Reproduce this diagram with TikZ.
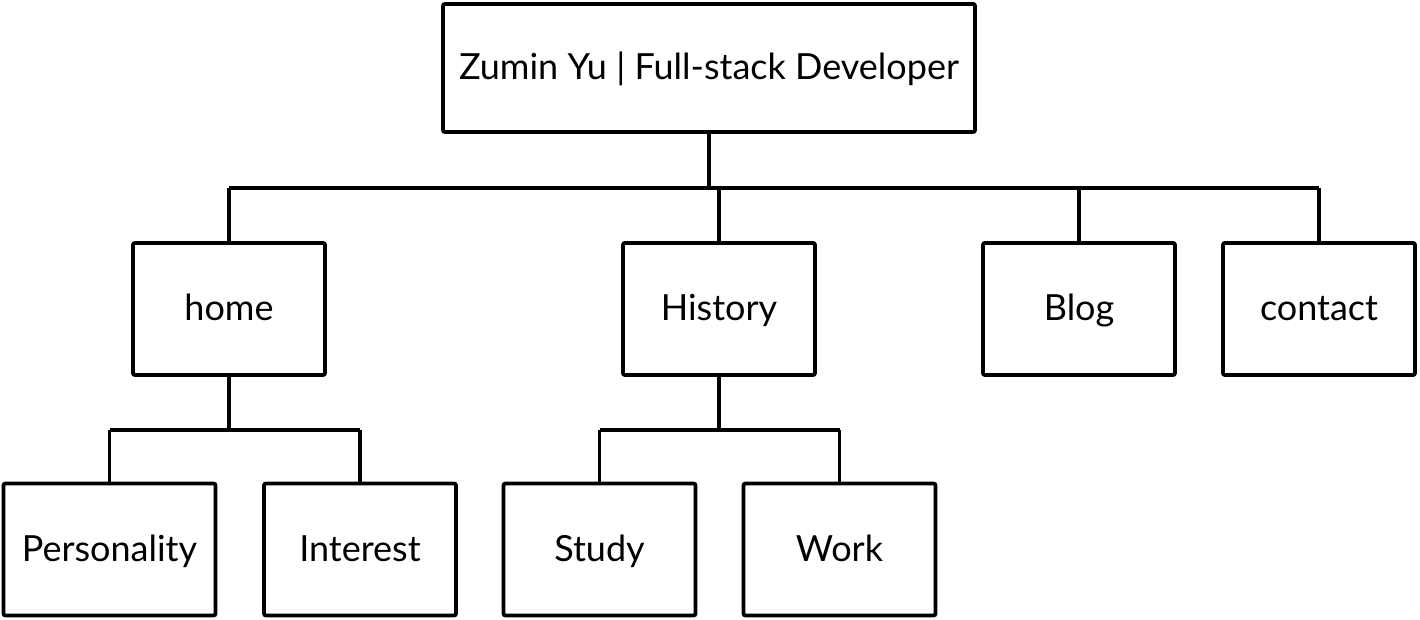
\documentclass[tikz,border=0pt]{standalone}
\usepackage{fontspec}
\setmainfont{Lato}
\usepackage{tikz}

\tikzset{
	box/.style={draw, line width=1.9pt, rounded corners=1pt, minimum width=96pt, minimum height=66pt, font=\fontsize{18}{20}\selectfont, inner sep=0pt, text height=13.5pt, text depth=1.5pt},
	link/.style={line width=1.6pt}
}

\begin{document}
\begin{tikzpicture}[x=0.5pt,y=-0.5pt]
	\useasboundingbox (0,0) rectangle (1420,620);
	\node[box, minimum width=266pt, minimum height=64pt] (root) at (709,68) {Zumin Yu | Full-stack Developer};
	\node[box] (home) at (229,309) {home};
	\node[box] (history) at (719,309) {History};
	\node[box] (blog) at (1079,309) {Blog};
	\node[box] (contact) at (1319,309) {contact};
	\node[box, minimum width=106pt] (personality) at (109.5,549.5) {Personality};
	\node[box] (interest) at (360,549.5) {Interest};
	\node[box] (study) at (599.5,549.5) {Study};
	\node[box] (work) at (839.5,549.5) {Work};
	\coordinate (bus) at (0,188);
	\coordinate (busa) at (0,430);
	\draw[link] (root.south) -- (root.south |- bus);
	\draw[link] (home.north |- bus) -- (contact.north |- bus);
	\foreach \n in {home,history,blog,contact}
		\draw[link] (\n.north) -- (\n.north |- bus);
	\draw[link] (home.south) -- (home.south |- busa);
	\draw[link] (personality.north |- busa) -- (interest.north |- busa);
	\draw[link] (personality.north) -- (personality.north |- busa);
	\draw[link] (interest.north) -- (interest.north |- busa);
	\draw[link] (history.south) -- (history.south |- busa);
	\draw[link] (study.north |- busa) -- (work.north |- busa);
	\draw[link] (study.north) -- (study.north |- busa);
	\draw[link] (work.north) -- (work.north |- busa);
\end{tikzpicture}
\end{document}
